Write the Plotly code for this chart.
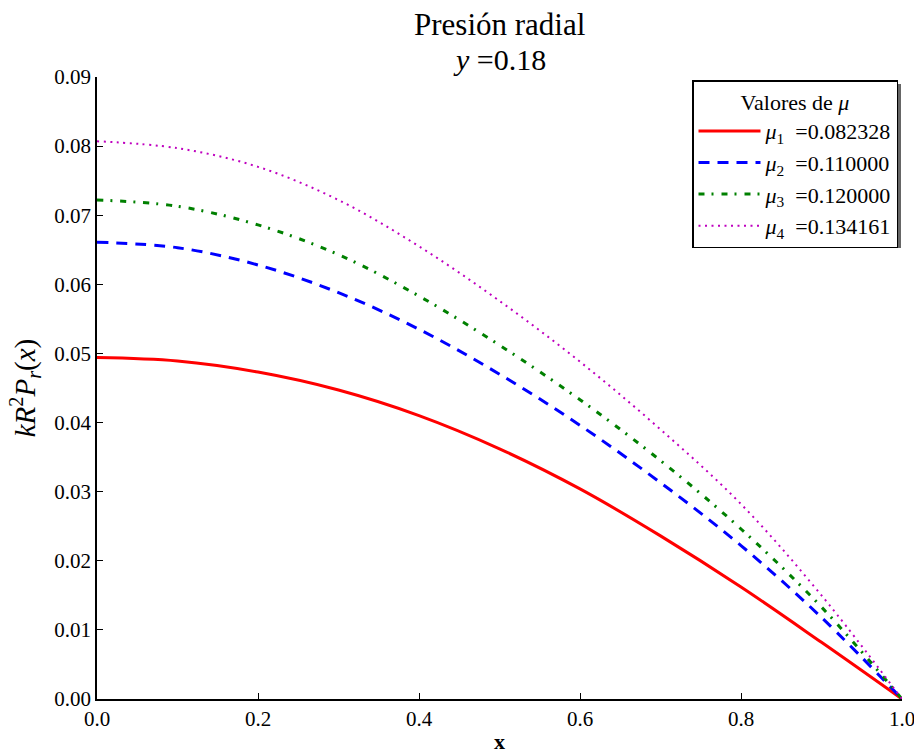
import plotly.graph_objects as go

x_vals = [0.0, 0.1, 0.2, 0.3, 0.4, 0.5, 0.6, 0.7, 0.8, 0.9, 1.0]

mu1_vals = [0.0494, 0.0489, 0.0473, 0.0447, 0.0410, 0.0362, 0.0304, 0.0236, 0.0162, 0.0082, 0.0]
mu2_vals = [0.0661, 0.0653, 0.0628, 0.0588, 0.0535, 0.0470, 0.0396, 0.0313, 0.0222, 0.0118, 0.0]
mu3_vals = [0.0722, 0.0713, 0.0686, 0.0643, 0.0583, 0.0512, 0.0433, 0.0345, 0.0246, 0.0133, 0.0]
mu4_vals = [0.0807, 0.0797, 0.0770, 0.0722, 0.0655, 0.0576, 0.0488, 0.0390, 0.0282, 0.0150, 0.0]

series_names = ["<i>μ</i><sub>1</sub>&nbsp; =0.082328", "<i>μ</i><sub>2</sub>&nbsp; =0.110000",
                "<i>μ</i><sub>3</sub>&nbsp; =0.120000", "<i>μ</i><sub>4</sub>&nbsp; =0.134161"]
x_ticks = [0.0, 0.2, 0.4, 0.6, 0.8, 1.0]
y_ticks = [0.00, 0.01, 0.02, 0.03, 0.04, 0.05, 0.06, 0.07, 0.08, 0.09]

styles = [
    dict(color="#ff0000", width=3, dash="solid"),
    dict(color="#0000ff", width=3, dash="11px,8px"),
    dict(color="#008000", width=3, dash="6px,7px,2px,8px"),
    dict(color="#bf00bf", width=2, dash="2px,4.5px"),
]

FONT = "Liberation Serif"
L, R, T, B = 97, 902, 77, 699
PW, PH = R - L, B - T

fig = go.Figure()
for vals, name, st in zip([mu1_vals, mu2_vals, mu3_vals, mu4_vals], series_names, styles):
    fig.add_trace(go.Scatter(x=x_vals, y=vals, mode="lines", name=name,
                             line=dict(shape="spline", **st), hoverinfo="skip"))

def py(pix):
    return (B - pix) / PH

def px(pix):
    return (pix - L) / PW

# title lines
fig.add_annotation(text="Presión radial", xref="paper", yref="paper", x=0.5, y=py(24),
                   xanchor="center", yanchor="middle", showarrow=False,
                   font=dict(family=FONT, size=31, color="black"))
fig.add_annotation(text="<i>y</i> =0.18", xref="paper", yref="paper", x=0.5, y=py(59),
                   xanchor="center", yanchor="middle", showarrow=False,
                   font=dict(family=FONT, size=30, color="black"))

# legend shadow
fig.add_shape(type="rect", xref="paper", yref="paper",
              x0=px(696), x1=px(901), y0=py(248), y1=py(84),
              fillcolor="#666666", line=dict(width=0), layer="above")

fig.update_layout(
    width=914, height=754,
    margin=dict(l=L, r=914 - R, t=T, b=754 - B, autoexpand=False),
    paper_bgcolor="white", plot_bgcolor="white",
    font=dict(family=FONT, size=21, color="black"),
    showlegend=True,
    legend=dict(
        x=px(898), xanchor="right", y=py(80), yanchor="top",
        bgcolor="white", bordercolor="black", borderwidth=1.5,
        font=dict(family=FONT, size=22, color="black"),
        title=dict(text="Valores de <i>μ</i>", side="top center", font=dict(family=FONT, size=22)),
        itemwidth=62, tracegroupgap=0,
    ),
    xaxis=dict(
        range=[0, 1], tickvals=x_ticks, tickformat=".1f", automargin=False,
        ticklabeloverflow="allow",
        showgrid=False, zeroline=False,
        showline=True, linecolor="black", linewidth=1.5, mirror=False,
        ticks="inside", ticklen=6, tickwidth=1, tickcolor="black",
        title=dict(text="<b>x</b>", font=dict(family=FONT, size=22), standoff=5),
    ),
    yaxis=dict(
        range=[0, 0.09], tickvals=y_ticks, tickformat=".2f", automargin=False,
        ticklabeloverflow="allow",
        showgrid=False, zeroline=False,
        showline=True, linecolor="black", linewidth=1.5, mirror=False,
        ticks="inside", ticklen=6, tickwidth=1, tickcolor="black",
        title=dict(text="<i>kR</i><sup>2</sup><i>P</i><sub><i>r</i></sub>(<i>x</i>)",
                   font=dict(family=FONT, size=29), standoff=10),
    ),
)

fig.write_html("out.html")
